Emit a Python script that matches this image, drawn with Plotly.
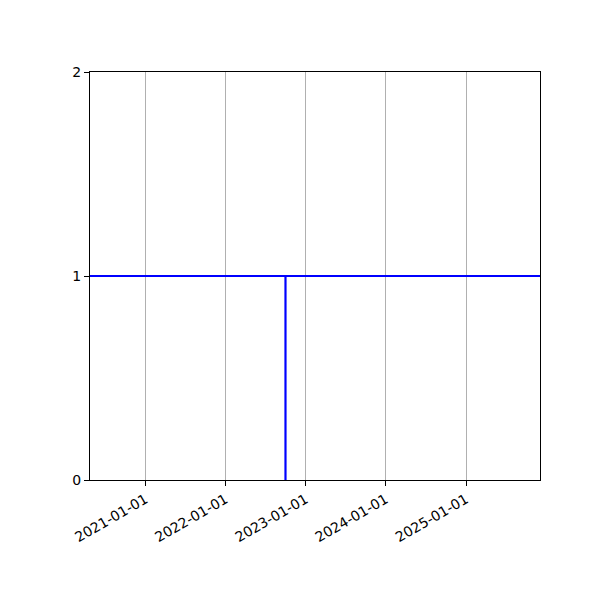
import plotly.graph_objects as go

# horizontal line at y=1 across the whole span
h_dates = ["2020-04-23", "2025-12-04"]
h_vals = [1, 1]

# vertical step from 0 to 1
v_dates = ["2022-10-01", "2022-10-01"]
v_vals = [0, 1]

tick_dates = ["2021-01-01", "2022-01-01", "2023-01-01", "2024-01-01", "2025-01-01"]
y_ticks = [0, 1, 2]

line_style = dict(color="#0000ff", width=2.2)

fig = go.Figure()
fig.add_trace(go.Scatter(x=h_dates, y=h_vals, mode="lines", line=line_style))
fig.add_trace(go.Scatter(x=v_dates, y=v_vals, mode="lines", line=line_style))

# page body adds ~8px, so margins are shifted to compensate
fig.update_layout(
    width=600, height=600,
    margin=dict(l=82, r=68, t=64, b=128),
    plot_bgcolor="white", paper_bgcolor="white",
    showlegend=False,
    font=dict(family="DejaVu Sans", size=14, color="black"),
)
fig.update_xaxes(
    type="date", range=[h_dates[0], h_dates[1]],
    tickvals=tick_dates, ticktext=tick_dates, tickangle=-30,
    showgrid=True, gridcolor="#b0b0b0", gridwidth=1,
    showline=True, linecolor="black", linewidth=1, mirror=True,
    ticks="outside", ticklen=5, tickcolor="black", zeroline=False,
)
fig.update_yaxes(
    range=[0, 2], tickvals=y_ticks,
    showgrid=False,
    showline=True, linecolor="black", linewidth=1, mirror=True,
    ticks="outside", ticklen=5, tickcolor="black", zeroline=False,
)

fig.write_html("out.html")
